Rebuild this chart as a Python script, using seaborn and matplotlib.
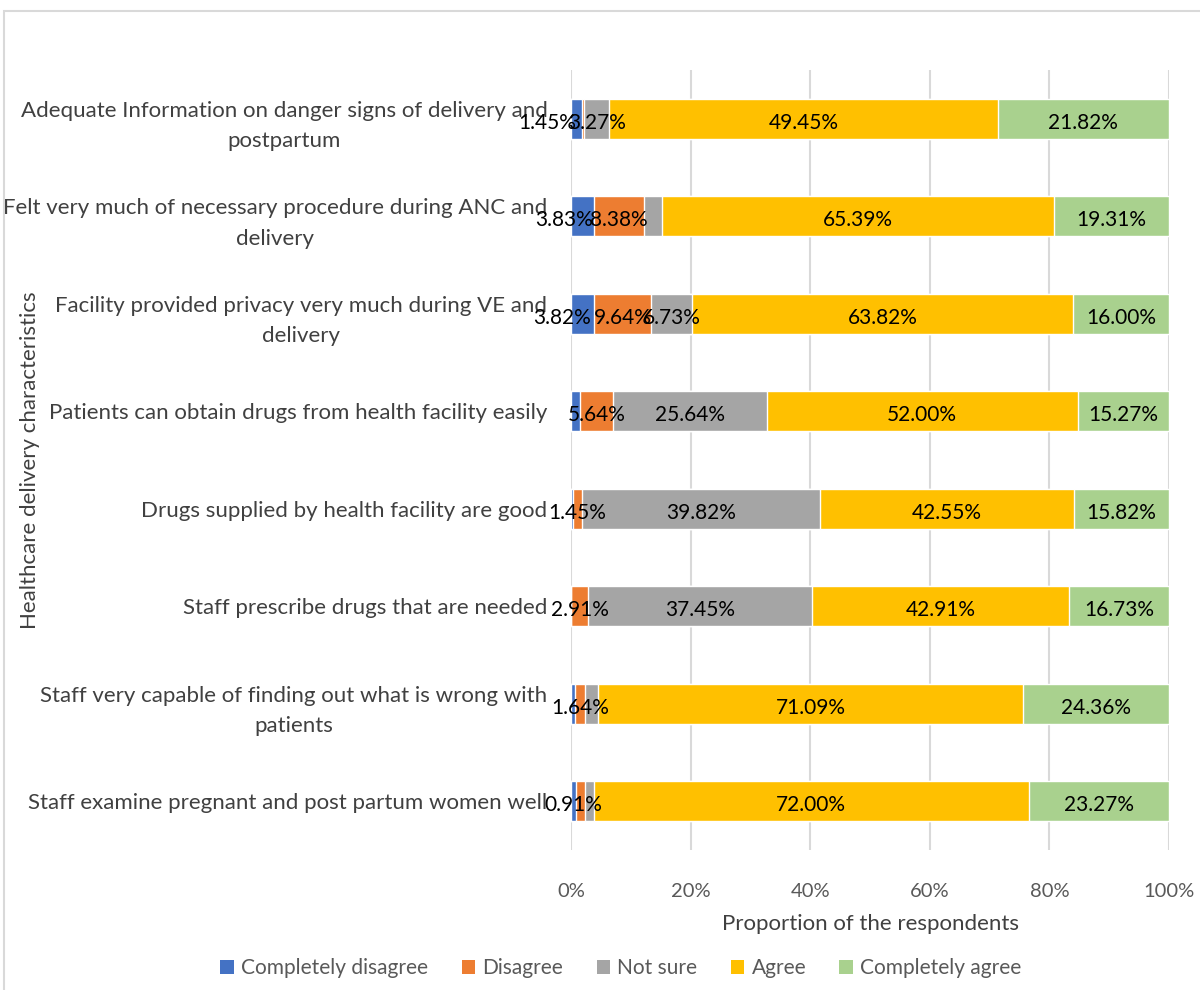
import matplotlib
matplotlib.use("Agg")
import matplotlib.pyplot as plt
from matplotlib.patches import Patch, Rectangle
import numpy as np
import pandas as pd
import seaborn as sns

# Survey items (top to bottom)
categories = [
    "Adequate Information on danger signs of delivery and\npostpartum",
    "Felt very much of necessary procedure during ANC and\ndelivery",
    "Facility provided privacy very much during VE and\ndelivery",
    "Patients can obtain drugs from health facility easily",
    "Drugs supplied by health facility are good",
    "Staff prescribe drugs that are needed",
    "Staff very capable of finding out what is wrong with\npatients",
    "Staff examine pregnant and post partum women well",
]

# Percent of respondents per response level
completely_disagree = [1.45, 3.83, 3.82, 1.45, 0.36, 0.00, 0.73, 0.91]
disagree = [0.18, 8.38, 9.64, 5.64, 1.45, 2.91, 1.64, 1.45]
not_sure = [3.27, 3.09, 6.73, 25.64, 39.82, 37.45, 2.18, 1.46]
agree = [49.45, 65.39, 63.82, 52.00, 42.55, 42.91, 71.09, 72.00]
completely_agree = [21.82, 19.31, 16.00, 15.27, 15.82, 16.73, 24.36, 23.27]

levels = ["Completely disagree", "Disagree", "Not sure", "Agree", "Completely agree"]
colors = ["#4472C4", "#ED7D31", "#A5A5A5", "#FFC000", "#A9D18E"]

# Which segments carry a data label
show_label = [
    [1, 0, 1, 1, 1],
    [1, 1, 0, 1, 1],
    [1, 1, 1, 1, 1],
    [0, 1, 1, 1, 1],
    [0, 1, 1, 1, 1],
    [0, 1, 1, 1, 1],
    [0, 1, 0, 1, 1],
    [1, 0, 0, 1, 1],
]
# Horizontal nudges (in axis %) for labels that overflow narrow segments
label_nudge = {(0, 0): -5.0, (1, 0): -3.0, (2, 0): -3.4}

df = pd.DataFrame({
    "category": categories,
    levels[0]: completely_disagree,
    levels[1]: disagree,
    levels[2]: not_sure,
    levels[3]: agree,
    levels[4]: completely_agree,
})
raw = df[levels].to_numpy(dtype=float)
share = raw / raw.sum(axis=1, keepdims=True) * 100.0
cum = np.cumsum(share, axis=1)

sns.set_theme(style="white")
plt.rcParams["font.family"] = ["Lato", "DejaVu Sans"]

fig = plt.figure(figsize=(12, 9.9), dpi=100)
ax = fig.add_axes([571 / 1200, 1 - 850 / 990, 598 / 1200, 780 / 990])

# Stacked 100% bars: draw cumulative totals from the outermost level inward
for j in range(len(levels) - 1, -1, -1):
    layer = pd.DataFrame({"category": categories, "value": cum[:, j]})
    sns.barplot(data=layer, x="value", y="category", order=categories,
                color=colors[j], saturation=1, width=0.41, orient="h",
                errorbar=None, ax=ax, zorder=2)

for i in range(len(categories)):
    for j in range(len(levels)):
        if not show_label[i][j]:
            continue
        left = cum[i, j] - share[i, j]
        xc = left + share[i, j] / 2 + label_nudge.get((i, j), 0.0)
        ax.text(xc, i + 0.04, f"{raw[i, j]:.2f}%", ha="center", va="center",
                fontsize=15, color="black", zorder=5)

ax.set_xlim(0, 100)
ax.set_ylim(len(categories) - 0.5, -0.5)
ax.set_xticks(np.arange(0, 101, 20))
ax.set_xticklabels([f"{t}%" for t in range(0, 101, 20)])
ax.xaxis.grid(True, color="#D9D9D9", linewidth=1.5, zorder=0)
ax.yaxis.grid(False)
ax.set_axisbelow(True)
for s in ax.spines.values():
    s.set_visible(False)

ax.tick_params(axis="x", length=0, pad=24, labelsize=14.5, labelcolor="#595959")
ax.tick_params(axis="y", length=0, pad=17, labelsize=16, labelcolor="#404040")
for lbl in ax.get_yticklabels():
    lbl.set_multialignment("center")
    lbl.set_linespacing(1.65)

ax.set_xlabel("Proportion of the respondents", fontsize=16, color="#404040", labelpad=10)
fig.text(30 / 1200, 1 - 460 / 990, "Healthcare delivery characteristics",
         rotation=90, ha="center", va="center", fontsize=16, color="#404040")
ax.set_ylabel("")

handles = [Patch(facecolor=c, edgecolor="none") for c in colors]
fig.legend(handles, levels, loc="center", bbox_to_anchor=(621 / 1200, 1 - 968 / 990),
           ncol=5, frameon=False, fontsize=15, handlelength=0.65, handleheight=0.65,
           handletextpad=0.35, columnspacing=1.6, labelcolor="#595959")

# Chart-area border
fig.patches.append(Rectangle((4 / 1200, -0.5), 1.5, 1.5 - 11 / 990,
                             transform=fig.transFigure, fill=False,
                             edgecolor="#D9D9D9", linewidth=1.5))

fig.savefig("out.png", dpi=100)
